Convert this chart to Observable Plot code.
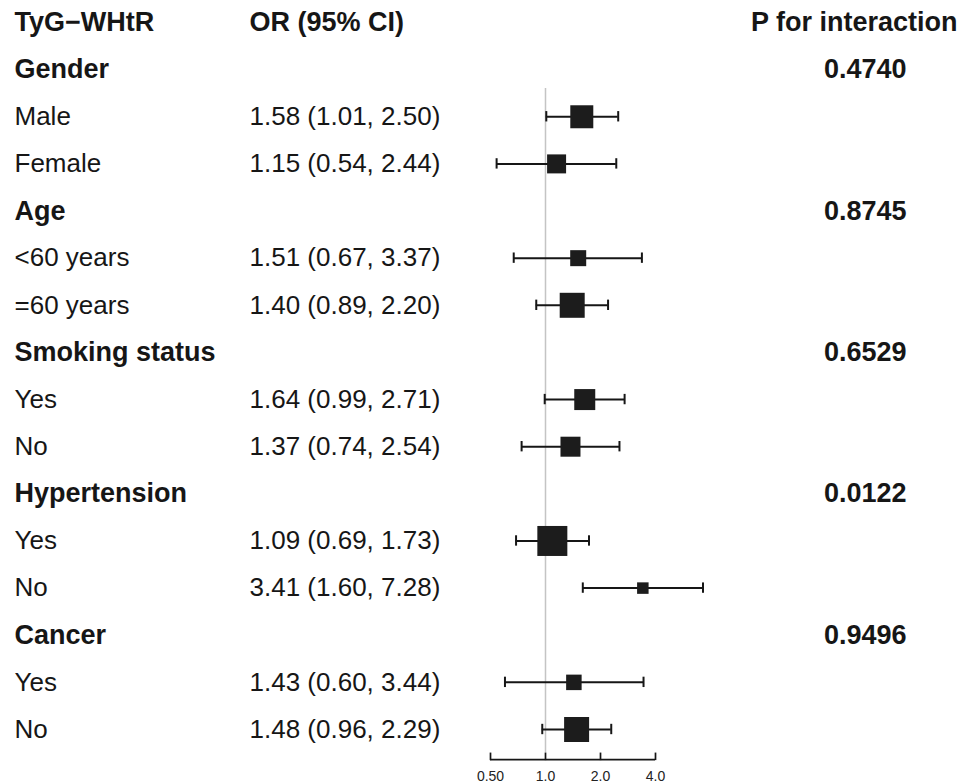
<!DOCTYPE html>
<html>
<head>
<meta charset="utf-8">
<script src="https://cdn.jsdelivr.net/npm/d3@7"></script>
<script src="https://cdn.jsdelivr.net/npm/@observablehq/plot@0.6"></script>
<style>
  body { margin: 0; background: #fff; }
  #chart svg { display: block; }
</style>
</head>
<body>
<div id="chart"></div>
<script>
// ---- data ----
const headers = { label: "TyG\u2212WHtR", ci: "OR (95% CI)", p: "P for interaction" };
const groups = ["Gender", "Age", "Smoking status", "Hypertension", "Cancer"];
const pInteraction = ["0.4740", "0.8745", "0.6529", "0.0122", "0.9496"];
const subgroups = ["Male", "Female", "<60 years", "=60 years", "Yes", "No", "Yes", "No", "Yes", "No"];
const subgroupGroup = [0, 0, 1, 1, 2, 2, 3, 3, 4, 4];
const orEst = [1.58, 1.15, 1.51, 1.40, 1.64, 1.37, 1.09, 3.41, 1.43, 1.48];
const orLow = [1.01, 0.54, 0.67, 0.89, 0.99, 0.74, 0.69, 1.60, 0.60, 0.96];
const orHigh = [2.50, 2.44, 3.37, 2.20, 2.71, 2.54, 1.73, 7.28, 3.44, 2.29];
const boxWeight = [23, 19, 16, 25, 21, 20, 30, 11.5, 15.5, 25];
const axisTicks = [0.5, 1, 2, 4];
const axisTickLabels = ["0.50", "1.0", "2.0", "4.0"];

// ---- table of rows ----
const f2 = d3.format(".2f");
const rows = [{i: 0, kind: "header", label: headers.label, ci: headers.ci, p: headers.p}];
groups.forEach((g, gi) => {
  rows.push({i: rows.length, kind: "group", label: g, ci: "", p: pInteraction[gi]});
  subgroups.forEach((s, si) => {
    if (subgroupGroup[si] !== gi) return;
    rows.push({
      i: rows.length, kind: "sub", label: s,
      est: orEst[si], lo: orLow[si], hi: orHigh[si], w: boxWeight[si],
      ci: `${f2(orEst[si])} (${f2(orLow[si])}, ${f2(orHigh[si])})`, p: ""
    });
  });
});
const subs = rows.filter(d => d.kind === "sub");
const bold = rows.filter(d => d.kind !== "sub");
const headerRow = rows.filter(d => d.kind === "header");
const groupRows = rows.filter(d => d.kind === "group");
const lastRow = rows.length - 1;
const ticks = axisTicks.map((t, k) => ({t, label: axisTickLabels[k]}));

const font = "'Liberation Sans', Arial, Helvetica, sans-serif";
const ink = "#161616";
const fs = 26;
const fsb = 27;

const chart = Plot.plot({
  width: 971,
  height: 784,
  marginTop: 0, marginLeft: 0, marginRight: 0, marginBottom: 0,
  style: {fontFamily: font, background: "#fff", color: ink},
  x: {type: "log", domain: [0.5, 4], range: [490, 655], axis: null},
  y: {type: "linear", domain: [0, lastRow], range: [22, 729], axis: null},
  r: {type: "linear", domain: [0, 30], range: [0, 30 / Math.sqrt(Math.PI)]},
  marks: [
    // reference line at OR = 1
    Plot.ruleX([1], {y1: 1.4, y2: lastRow + 0.5, stroke: "#c4c4c4", strokeWidth: 1.5}),
    // x axis: line, ticks, labels
    Plot.ruleY([lastRow + 0.64], {x1: axisTicks[0], x2: axisTicks[axisTicks.length - 1], stroke: ink, strokeWidth: 1.7}),
    Plot.ruleX(ticks, {x: "t", y1: lastRow + 0.5, y2: lastRow + 0.66, stroke: ink, strokeWidth: 1.7}),
    Plot.text(ticks, {x: "t", y: lastRow + 1.0, text: "label", fontSize: 14, fill: "#222"}),
    // confidence intervals
    Plot.ruleY(subs, {y: "i", x1: "lo", x2: "hi", stroke: ink, strokeWidth: 2}),
    Plot.ruleX(subs, {x: "lo", y1: d => d.i - 0.11, y2: d => d.i + 0.11, stroke: ink, strokeWidth: 2}),
    Plot.ruleX(subs, {x: "hi", y1: d => d.i - 0.11, y2: d => d.i + 0.11, stroke: ink, strokeWidth: 2}),
    // point estimates
    Plot.dot(subs, {x: "est", y: "i", r: "w", symbol: "square", fill: "#1c1c1c", stroke: null}),
    // text columns
    Plot.text(bold, {y: "i", text: "label", frameAnchor: "left", dx: 14, textAnchor: "start", fontSize: fsb, fontWeight: "bold", fill: ink}),
    Plot.text(subs, {y: "i", text: "label", frameAnchor: "left", dx: 14, textAnchor: "start", fontSize: fs, fill: ink}),
    Plot.text(headerRow, {y: "i", text: "ci", frameAnchor: "left", dx: 249, textAnchor: "start", fontSize: fsb, fontWeight: "bold", fill: ink}),
    Plot.text(subs, {y: "i", text: "ci", frameAnchor: "left", dx: 249, textAnchor: "start", fontSize: fs, fill: ink}),
    Plot.text(headerRow, {y: "i", text: "p", frameAnchor: "right", dx: -14, textAnchor: "end", fontSize: fsb, fontWeight: "bold", fill: ink}),
    Plot.text(groupRows, {y: "i", text: "p", frameAnchor: "right", dx: -65, textAnchor: "end", fontSize: fsb, fontWeight: "bold", fill: ink})
  ]
});
document.getElementById("chart").append(chart);
</script>
</body>
</html>
